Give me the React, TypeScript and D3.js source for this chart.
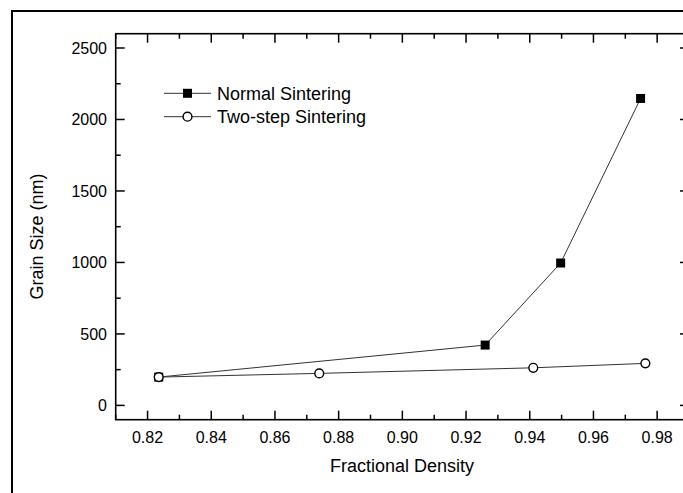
import React, { useEffect, useRef } from 'react';
import * as d3 from 'd3';

// data
const normalDensity = [0.8235, 0.926, 0.9497, 0.9748];
const normalGrain = [198, 422, 996, 2147];
const twoStepDensity = [0.8235, 0.8739, 0.9411, 0.9763];
const twoStepGrain = [198, 224, 263, 294];
const xTicks = [0.82, 0.84, 0.86, 0.88, 0.9, 0.92, 0.94, 0.96, 0.98];
const yTicks = [0, 500, 1000, 1500, 2000, 2500];
const seriesNames = ['Normal Sintering', 'Two-step Sintering'];

const W = 683, H = 493;
const FONT = 'Liberation Sans, Arial, sans-serif';

const App = () => {
    const ref = useRef<SVGSVGElement>(null);

    useEffect(() => {
        const svg = d3.select(ref.current);
        svg.selectAll('*').remove();

        const left = 115.7, right = 689, top = 33.7, bottom = 419.7;
        const x = d3.scaleLinear().domain([0.81, 0.99]).range([left, right]);
        const y = d3.scaleLinear().domain([-100, 2600]).range([bottom, top]);

        // outer frame
        svg.append('rect')
            .attr('x', 12).attr('y', 11)
            .attr('width', W + 20).attr('height', H + 20)
            .attr('fill', 'none').attr('stroke', '#000').attr('stroke-width', 2);

        const g = svg.append('g');

        // minor ticks
        const xMinor = d3.range(0.81, 0.99, 0.01).map(v => +v.toFixed(2)).filter(v => !xTicks.some(t => Math.abs(t - v) < 1e-6));
        const yMinor = d3.range(-250, 2600, 250).filter(v => v % 500 !== 0 && v > -100);

        const tickPath = (x1: number, y1: number, x2: number, y2: number) => {
            g.append('line')
                .attr('x1', x1).attr('y1', y1).attr('x2', x2).attr('y2', y2)
                .attr('stroke', '#000').attr('stroke-width', 1.5);
        };

        xTicks.forEach(t => {
            tickPath(x(t), bottom, x(t), bottom - 9);
            tickPath(x(t), top, x(t), top + 9);
        });
        xMinor.forEach(t => {
            tickPath(x(t), bottom, x(t), bottom - 5);
            tickPath(x(t), top, x(t), top + 5);
        });
        yTicks.forEach(t => {
            tickPath(left, y(t), left + 9, y(t));
            tickPath(right, y(t), right - 9, y(t));
        });
        yMinor.forEach(t => {
            tickPath(left, y(t), left + 5, y(t));
            tickPath(right, y(t), right - 5, y(t));
        });

        // axis box
        g.append('rect')
            .attr('x', left).attr('y', top)
            .attr('width', right - left).attr('height', bottom - top)
            .attr('fill', 'none').attr('stroke', '#000').attr('stroke-width', 1.6);

        // tick labels
        g.selectAll('text.xt').data(xTicks).enter().append('text')
            .attr('class', 'xt')
            .attr('x', d => x(d)).attr('y', 442.5)
            .attr('text-anchor', 'middle')
            .attr('font-family', FONT).attr('font-size', 16)
            .text(d => d3.format('.2f')(d));
        g.selectAll('text.yt').data(yTicks).enter().append('text')
            .attr('class', 'yt')
            .attr('x', 107).attr('y', d => y(d) + 5.8)
            .attr('text-anchor', 'end')
            .attr('font-family', FONT).attr('font-size', 16)
            .text(d => d);

        // axis titles
        g.append('text')
            .attr('x', 402).attr('y', 471.5)
            .attr('text-anchor', 'middle')
            .attr('font-family', FONT).attr('font-size', 18)
            .text('Fractional Density');
        g.append('text')
            .attr('transform', 'translate(42.5,236.5) rotate(-90)')
            .attr('text-anchor', 'middle')
            .attr('font-family', FONT).attr('font-size', 18)
            .text('Grain Size (nm)');

        const line = d3.line<[number, number]>().x(d => x(d[0])).y(d => y(d[1]));
        const normal: [number, number][] = normalDensity.map((d, i) => [d, normalGrain[i]]);
        const twoStep: [number, number][] = twoStepDensity.map((d, i) => [d, twoStepGrain[i]]);

        [normal, twoStep].forEach(pts => {
            g.append('path')
                .attr('d', line(pts))
                .attr('fill', 'none').attr('stroke', '#333').attr('stroke-width', 1);
        });

        // markers
        g.selectAll('rect.sq').data(normal).enter().append('rect')
            .attr('class', 'sq')
            .attr('x', d => x(d[0]) - 4.5).attr('y', d => y(d[1]) - 4.5)
            .attr('width', 9).attr('height', 9)
            .attr('fill', '#000');
        g.selectAll('circle.ci').data(twoStep).enter().append('circle')
            .attr('class', 'ci')
            .attr('cx', d => x(d[0])).attr('cy', d => y(d[1]))
            .attr('r', 4.4)
            .attr('fill', '#fff').attr('stroke', '#000').attr('stroke-width', 1.4);

        // legend
        const leg = g.append('g');
        seriesNames.forEach((name, i) => {
            const ly = 93.3 + i * 23.4;
            leg.append('line')
                .attr('x1', 164).attr('x2', 211).attr('y1', ly).attr('y2', ly)
                .attr('stroke', '#333').attr('stroke-width', 1);
            if (i === 0) {
                leg.append('rect')
                    .attr('x', 187.5 - 4.5).attr('y', ly - 4.5)
                    .attr('width', 9).attr('height', 9).attr('fill', '#000');
            } else {
                leg.append('circle')
                    .attr('cx', 187.5).attr('cy', ly).attr('r', 4.4)
                    .attr('fill', '#fff').attr('stroke', '#000').attr('stroke-width', 1.4);
            }
            leg.append('text')
                .attr('x', 217).attr('y', ly + 6.5)
                .attr('font-family', FONT).attr('font-size', 18)
                .text(name);
        });
    }, []);

    return (
        <svg ref={ref} width={W} height={H}
            style={{ position: 'absolute', left: 0, top: 0, background: '#fff' }} />
    );
};

export default App;
